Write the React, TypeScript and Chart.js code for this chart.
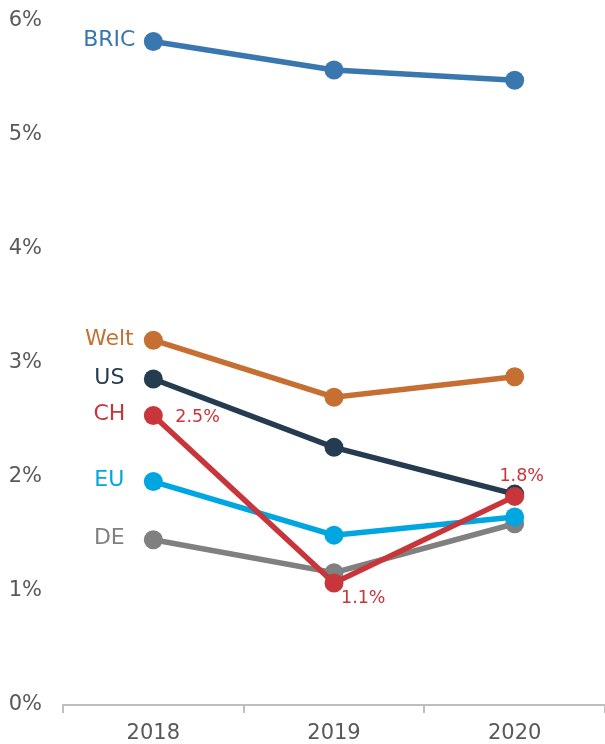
import React, { useEffect, useRef } from "react";
import { Chart, registerables } from "chart.js";

Chart.register(...registerables);

const years = ["2018", "2019", "2020"];
const yTicks = [0, 1, 2, 3, 4, 5, 6];

const bric = [5.82, 5.57, 5.48];
const welt = [3.2, 2.7, 2.88];
const us = [2.86, 2.26, 1.85];
const ch = [2.54, 1.07, 1.83];
const eu = [1.96, 1.49, 1.65];
const de = [1.45, 1.16, 1.59];

const chLabels = ["2.5%", "1.1%", "1.8%"];

const seriesNames = ["BRIC", "Welt", "US", "CH", "EU", "DE"];
const seriesColors = ["#3A77AE", "#C56F33", "#243B50", "#C8353A", "#00A6E0", "#808080"];
const seriesData = [bric, welt, us, ch, eu, de];
// draw order: lower = on top
const seriesOrder = [6, 5, 4, 1, 2, 3];

const FONT = "'DejaVu Sans', sans-serif";

const seriesLabelPlugin = {
  id: "seriesLabels",
  afterDatasetsDraw(chart: any) {
    const ctx = chart.ctx;
    ctx.save();
    ctx.font = `22px ${FONT}`;
    ctx.textAlign = "center";
    ctx.textBaseline = "middle";
    chart.data.datasets.forEach((ds: any, i: number) => {
      const meta = chart.getDatasetMeta(i);
      const p = meta.data[0];
      ctx.fillStyle = ds.borderColor;
      ctx.fillText(ds.label, p.x - 44, p.y - 1);
    });
    // CH value labels
    const idx = seriesNames.indexOf("CH");
    const meta = chart.getDatasetMeta(idx);
    ctx.fillStyle = seriesColors[idx];
    ctx.font = `17.5px ${FONT}`;
    const offsets = [
      { dx: 22, dy: 2, align: "left" },
      { dx: 7, dy: 15, align: "left" },
      { dx: 7, dy: -20, align: "center" },
    ];
    meta.data.forEach((p: any, j: number) => {
      const o = offsets[j];
      ctx.textAlign = o.align;
      ctx.fillText(chLabels[j], p.x + o.dx, p.y + o.dy);
    });
    ctx.restore();
  },
};

export default function App() {
  const ref = useRef<HTMLCanvasElement>(null);
  useEffect(() => {
    document.body.style.margin = "0";
    const chart = new Chart(ref.current!, {
      type: "line",
      data: {
        labels: years,
        datasets: seriesNames.map((n, i) => ({
          label: n,
          data: seriesData[i],
          borderColor: seriesColors[i],
          backgroundColor: seriesColors[i],
          pointBackgroundColor: seriesColors[i],
          pointBorderWidth: 0,
          pointRadius: 9.5,
          borderWidth: 5.5,
          tension: 0,
          order: seriesOrder[i],
        })),
      },
      options: {
        animation: false,
        responsive: false,
        maintainAspectRatio: false,
        layout: { autoPadding: false, padding: { top: 21, right: 0, bottom: 0, left: 0 } },
        plugins: { legend: { display: false }, tooltip: { enabled: false } },
        scales: {
          x: {
            offset: true,
            afterFit: (s: any) => {
              s.height = 39;
              s.paddingLeft = 0;
              s.paddingRight = 0;
            },
            grid: {
              display: true,
              drawOnChartArea: false,
              drawTicks: true,
              tickLength: 8,
              color: "#BFBFBF",
              lineWidth: 2,
              offset: true,
            },
            border: { display: true, color: "#BFBFBF", width: 2 },
            ticks: {
              color: "#595959",
              font: { family: FONT, size: 21 },
              padding: 8,
            },
          },
          y: {
            min: 0,
            max: 6,
            afterBuildTicks: (s: any) => {
              s.ticks = yTicks.map((v) => ({ value: v }));
            },
            afterFit: (s: any) => {
              s.width = 63;
              s.paddingTop = 0;
              s.paddingBottom = 0;
            },
            grid: { display: false, drawTicks: false },
            border: { display: false },
            ticks: {
              color: "#595959",
              font: { family: FONT, size: 21 },
              padding: 21,
              callback: (v: any) => `${v}%`,
            },
          },
        },
      },
      plugins: [seriesLabelPlugin],
    });
    return () => chart.destroy();
  }, []);
  return <canvas ref={ref} width={605} height={744} style={{ display: "block" }} />;
}
